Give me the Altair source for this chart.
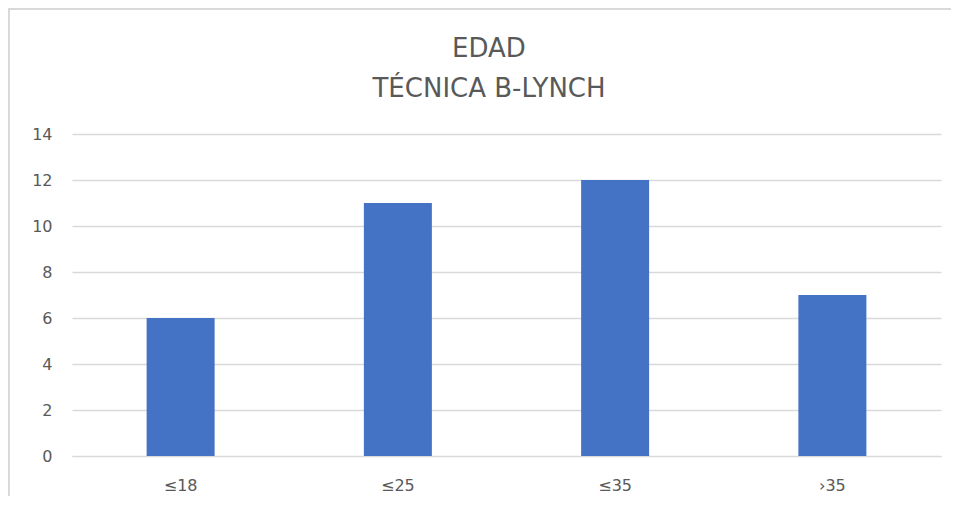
import altair as alt
import pandas as pd

categories = ["≤18", "≤25", "≤35", "›35"]
values = [6, 11, 12, 7]
title_lines = ["EDAD", "TÉCNICA B-LYNCH"]

df = pd.DataFrame({"edad": categories, "n": values})
one = pd.DataFrame({"k": [0]})

W = 869
H = 322
FONT = "DejaVu Sans"

bars = alt.Chart(df).mark_bar(color="#4472C4").encode(
    x=alt.X("edad:N", sort=categories,
            scale=alt.Scale(paddingInner=0.687, paddingOuter=0.3435),
            axis=alt.Axis(title=None, labelAngle=0, labelFontSize=16, labelColor="#595959",
                          labelFont=FONT, ticks=False, domain=True, domainColor="#d9d9d9",
                          labelPadding=21, grid=False)),
    y=alt.Y("n:Q", scale=alt.Scale(domain=[0, 14], nice=False),
            axis=alt.Axis(title=None, values=[0, 2, 4, 6, 8, 10, 12, 14], labelFontSize=16,
                          labelColor="#595959", labelFont=FONT, ticks=False, domain=False,
                          gridColor="#d9d9d9", gridWidth=1.3, labelPadding=20)),
)

border = alt.Chart(one).mark_rect(fill=None, stroke="#d9d9d9", strokeWidth=2).encode(
    x=alt.value(-63), x2=alt.value(W + 60), y=alt.value(-125), y2=alt.value(H + 60)
)

title = alt.Chart(one).mark_text(
    fontSize=26, font=FONT, fontWeight="normal", color="#595959",
    align="center", baseline="middle", lineHeight=40
).encode(
    x=alt.value(417), y=alt.value(-85), text=alt.value(title_lines)
)

chart = alt.layer(border, bars, title).properties(
    width=W, height=H,
    padding={"left": 64, "top": 126, "right": 10, "bottom": 40},
    autosize=alt.AutoSizeParams(type="none"),
).configure_view(stroke=None)

chart.save("out.html", embed_options={"renderer": "svg", "actions": False})
